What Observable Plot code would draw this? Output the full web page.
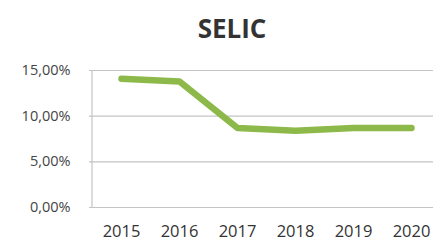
<!DOCTYPE html>
<html>
<head>
<meta charset="utf-8">
<script src="https://cdn.jsdelivr.net/npm/d3@7"></script>
<script src="https://cdn.jsdelivr.net/npm/@observablehq/plot@0.6"></script>
<style>
  html, body { margin: 0; padding: 0; background: #fff; overflow: hidden; }
  #title { height: 46px; width: 464px; text-align: center; font-family: "Open Sans", sans-serif; font-weight: bold; font-size: 26px; line-height: 46px; color: #333; box-sizing: border-box; padding-top: 5px; }
  #chart svg { display: block; }
</style>
</head>
<body>
<div id="title">SELIC</div>
<div id="chart"></div>
<script>
const years = ["2015", "2016", "2017", "2018", "2019", "2020"];
const selic = [14.1, 13.8, 8.7, 8.4, 8.7, 8.7];
const yTicks = [0, 5, 10, 15];

const data = years.map((y, i) => ({year: y, value: selic[i]}));
const fmt = d => d.toFixed(2).replace(".", ",") + "%";

const chart = Plot.plot({
  width: 433,
  height: 195,
  marginLeft: 89,
  marginRight: 0,
  marginTop: 24,
  marginBottom: 34,
  style: {fontFamily: "Open Sans, sans-serif", background: "#fff", color: "#444"},
  x: {type: "band", domain: years, range: [89, 443], label: null},
  y: {domain: [0, 15], range: [161, 24], label: null},
  marks: [
    Plot.ruleY(yTicks, {stroke: "#c4c4c4", strokeWidth: 1.2, strokeOpacity: 1}),
    Plot.ruleX([0], {x: () => years[0], dx: -29.5, y1: 0, y2: 15, stroke: "#c4c4c4", strokeWidth: 1.2}),
    Plot.axisY({ticks: yTicks, tickSize: 0, tickPadding: 19, tickFormat: fmt, fontSize: 14.5, fill: "#444", label: null}),
    Plot.axisX({tickSize: 0, tickPadding: 18, fontSize: 16.5, fill: "#333", label: null}),
    Plot.line(data, {x: "year", y: "value", stroke: "#8db84a", strokeWidth: 6.5, strokeLinecap: "round", strokeLinejoin: "round"})
  ]
});
document.getElementById("chart").appendChild(chart);
</script>
</body>
</html>
